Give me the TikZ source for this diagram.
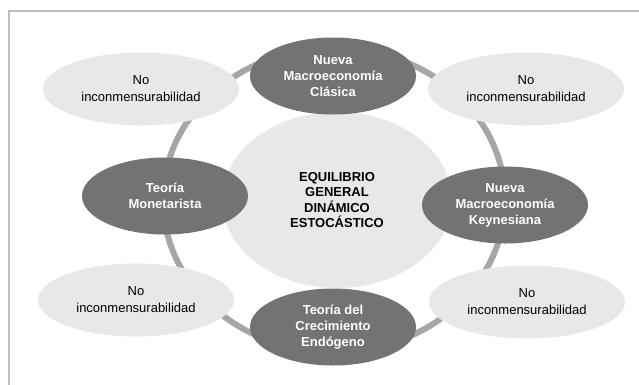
\documentclass[tikz,border=0pt]{standalone}
\usepackage{fontspec}
\setmainfont{Liberation Sans}
\usetikzlibrary{shapes.geometric}
\definecolor{ringgray}{HTML}{A6A6A6}
\definecolor{darkgray}{HTML}{737373}
\definecolor{lightgray}{HTML}{E8E8E8}
\definecolor{framegray}{HTML}{BFBFBF}
\tikzset{
  school/.style={ellipse, fill=darkgray, text=white, align=center, inner sep=0pt,
    font=\bfseries\fontsize{13}{16}\selectfont, minimum width=166pt, minimum height=77pt},
  nocon/.style={ellipse, fill=lightgray, align=center, inner sep=0pt,
    font=\fontsize{13}{17}\selectfont, minimum width=196pt, minimum height=73pt},
  hub/.style={ellipse, fill=lightgray, align=center, inner sep=0pt,
    font=\bfseries\fontsize{13}{15.5}\selectfont, minimum width=230pt, minimum height=176pt}
}
\begin{document}
\begin{tikzpicture}[x=1pt,y=-1pt]
      \useasboundingbox (0,0) rectangle (639,384);
      \draw[framegray, line width=2pt] (8.5,10.5) rectangle (700,420);
      \coordinate (c) at (334,200);
      \draw[ringgray, line width=6pt] (c) ellipse[x radius=171pt, y radius=152pt];
      \draw
        (141,89) node[nocon] (n1){No\\inconmensurabilidad}
        (526,89) node[nocon] (n2){No\\inconmensurabilidad}
        (136,300) node[nocon] (n3){No\\inconmensurabilidad}
        (527,302) node[nocon] (n4){No\\inconmensurabilidad}
        (337,200) node[hub] (dsge){EQUILIBRIO\\GENERAL\\DINÁMICO\\ESTOCÁSTICO}
        (333,76) node[school] (nmc){Nueva\\Macroeconomía\\Clásica}
        (165,196) node[school] (mon){Teoría\\Monetarista}
        (505,205) node[school] (nmk){Nueva\\Macroeconomía\\Keynesiana}
        (333,327) node[school] (tce){Teoría del\\Crecimiento\\Endógeno};
    \end{tikzpicture}
\end{document}
